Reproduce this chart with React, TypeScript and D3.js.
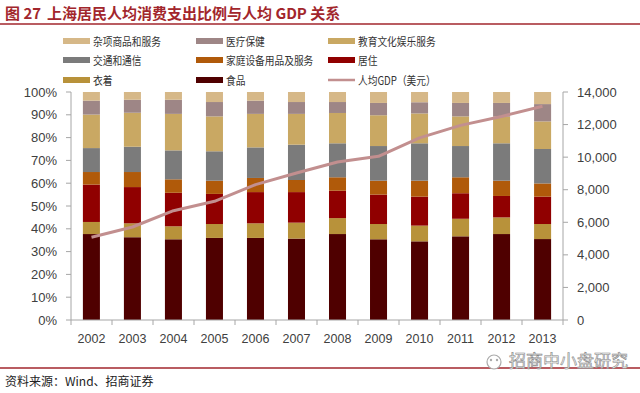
import React from "react";
import * as d3 from "d3";

const years = ["2002", "2003", "2004", "2005", "2006", "2007", "2008", "2009", "2010", "2011", "2012", "2013"];

// 消费支出构成 (%)
const food = [37.7, 36.3, 35.4, 36.0, 36.0, 35.7, 37.7, 35.4, 34.5, 36.7, 37.7, 35.5];
const clothing = [5.3, 6.1, 5.7, 6.1, 6.4, 7.0, 7.0, 6.7, 6.9, 7.7, 7.3, 6.6];
const housing = [16.4, 15.9, 14.7, 13.2, 13.7, 13.4, 12.0, 12.9, 12.7, 11.2, 9.4, 12.0];
const household = [5.5, 6.6, 5.9, 5.8, 6.2, 5.3, 5.9, 6.1, 7.0, 7.0, 6.7, 5.8];
const transport = [10.5, 11.1, 12.7, 12.9, 13.4, 15.5, 14.9, 15.2, 16.4, 13.7, 16.4, 15.1];
const education = [14.7, 14.9, 16.0, 15.3, 14.7, 13.5, 13.3, 13.5, 13.1, 13.0, 11.7, 12.1];
const medical = [6.1, 5.7, 6.2, 6.3, 5.8, 5.2, 4.8, 5.4, 4.9, 5.9, 6.0, 7.6];
const misc = [3.8, 3.4, 3.4, 4.4, 3.8, 4.4, 4.4, 4.8, 4.5, 4.8, 4.8, 5.3];

// 人均GDP（美元）
const gdp = [5080, 5710, 6710, 7290, 8310, 9030, 9700, 10050, 11180, 11950, 12500, 13120];

const leftTicks = [0, 10, 20, 30, 40, 50, 60, 70, 80, 90, 100];
const rightTicks = [0, 2000, 4000, 6000, 8000, 10000, 12000, 14000];

const series = [
  { key: "food", name: "食品", values: food, color: "#4f0000" },
  { key: "clothing", name: "衣着", values: clothing, color: "#b8923a" },
  { key: "housing", name: "居住", values: housing, color: "#900000" },
  { key: "household", name: "家庭设备用品及服务", values: household, color: "#b05a0a" },
  { key: "transport", name: "交通和通信", values: transport, color: "#7b7b7b" },
  { key: "education", name: "教育文化娱乐服务", values: education, color: "#c9a863" },
  { key: "medical", name: "医疗保健", values: medical, color: "#9e8686" },
  { key: "misc", name: "杂项商品和服务", values: misc, color: "#d6b888" },
];

const legendRows = [
  ["misc", "medical", "education"],
  ["transport", "household", "housing"],
  ["clothing", "food", "gdp"],
];

const lineColor = "#c28f8f";
const titleColor = "#a2262c";
const axisColor = "#a6a6a6";
const textColor = "#404040";
const font = "'Liberation Sans', Arial, sans-serif";
const cjk = "'Noto Sans CJK SC', sans-serif";

const W = 640;
const H = 393;
const plot = { left: 71, right: 563, top: 92, bottom: 320 };

// legend text is narrower than Noto at this size, so squeeze a little
const LegendText = ({ x, y, label }: { x: number; y: number; label: string }) => {
  const cjkCount = label.replace(/[A-Za-z]/g, "").length;
  const latin = label.length - cjkCount;
  const len = cjkCount * 9.7 + latin * 6.5;
  return (
    <text x={x} y={y} fontFamily={cjk} fontSize={11.5} fill="#333" textLength={len} lengthAdjust="spacingAndGlyphs">
      {label}
    </text>
  );
};

export default function App() {
  const x = d3.scaleBand().domain(years).range([plot.left, plot.right]).paddingInner(0.585).paddingOuter(0.29);
  const band = d3.scaleBand().domain(years).range([plot.left, plot.right]);
  const yl = d3.scaleLinear().domain([0, 100]).range([plot.bottom, plot.top]);
  const yr = d3.scaleLinear().domain([0, 14000]).range([plot.bottom, plot.top]);

  const table = years.map((y, i) => {
    const row: Record<string, any> = { year: y };
    series.forEach((s) => (row[s.key] = s.values[i]));
    return row;
  });
  const stacked = d3.stack().keys(series.map((s) => s.key))(table as any);

  const line = d3
    .line<number>()
    .x((_, i) => (band(years[i]) as number) + band.bandwidth() / 2)
    .y((d) => yr(d));

  const byKey = Object.fromEntries(series.map((s) => [s.key, s]));
  const legendCols = [63, 196, 328];
  const legendYs = [41, 60, 80];

  return (
    <svg width={W} height={H} style={{ position: "absolute", left: 0, top: 0, background: "#fff" }}>
      <text y={19} fill={titleColor} fontFamily={cjk} fontWeight="bold" fontSize={15}>
        <tspan x={5}>图 27</tspan>
        <tspan x={47}>上海居民人均消费支出比例与人均 GDP 关系</tspan>
      </text>
      <line x1={0} x2={W} y1={24} y2={24} stroke={titleColor} strokeWidth={1.5} />

      {legendRows.map((row, r) =>
        row.map((k, c) => {
          const lx = legendCols[c];
          const ly = legendYs[r];
          if (k === "gdp") {
            return (
              <g key={k}>
                <line x1={lx} x2={lx + 27} y1={ly} y2={ly} stroke={lineColor} strokeWidth={2.5} />
                <LegendText x={lx + 30} y={ly + 4.5} label="人均GDP（美元）" />
              </g>
            );
          }
          const s = byKey[k];
          return (
            <g key={k}>
              <rect x={lx} y={ly - 3} width={27} height={6} fill={s.color} />
              <LegendText x={lx + 30} y={ly + 4.5} label={s.name} />
            </g>
          );
        })
      )}

      {stacked.map((layer, li) => (
        <g key={layer.key} fill={series[li].color}>
          {layer.map((d, i) => (
            <rect
              key={years[i]}
              x={x(years[i])}
              width={x.bandwidth()}
              y={yl(Math.min(d[1], 100))}
              height={yl(d[0]) - yl(Math.min(d[1], 100))}
            />
          ))}
        </g>
      ))}

      <path d={line(gdp) || ""} fill="none" stroke={lineColor} strokeWidth={3} strokeLinejoin="round" />

      {/* left axis */}
      <line x1={plot.left} x2={plot.left} y1={plot.top} y2={plot.bottom} stroke={axisColor} />
      {leftTicks.map((t) => (
        <g key={t}>
          <line x1={plot.left - 5} x2={plot.left} y1={yl(t)} y2={yl(t)} stroke={axisColor} />
          <text x={57} y={yl(t) + 4.5} textAnchor="end" fontFamily={font} fontSize={13} fill={textColor}>
            {t + "%"}
          </text>
        </g>
      ))}

      {/* right axis */}
      <line x1={plot.right} x2={plot.right} y1={plot.top} y2={plot.bottom} stroke={axisColor} />
      {rightTicks.map((t) => (
        <g key={t}>
          <line x1={plot.right} x2={plot.right + 5} y1={yr(t)} y2={yr(t)} stroke={axisColor} />
          <text x={577} y={yr(t) + 4.5} textAnchor="start" fontFamily={font} fontSize={13} fill={textColor}>
            {d3.format(",")(t)}
          </text>
        </g>
      ))}

      {/* bottom axis */}
      <line x1={plot.left} x2={plot.right} y1={plot.bottom} y2={plot.bottom} stroke={axisColor} />
      {years.map((y) => (
        <g key={y}>
          <line x1={band(y) as number} x2={band(y) as number} y1={plot.bottom} y2={plot.bottom + 5} stroke={axisColor} />
          <text
            x={(band(y) as number) + band.bandwidth() / 2}
            y={plot.bottom + 23}
            textAnchor="middle"
            fontFamily={font}
            fontSize={12.5}
            fill={textColor}
          >
            {y}
          </text>
        </g>
      ))}
      <line x1={plot.right} x2={plot.right} y1={plot.bottom} y2={plot.bottom + 5} stroke={axisColor} />

      <line x1={0} x2={W} y1={368} y2={368} stroke={titleColor} strokeWidth={1.5} />

      {/* watermark */}
      <g>
        <circle cx={494} cy={362} r={7} fill="#fff" stroke="#aaa" strokeWidth={1.2} />
        <circle cx={491} cy={360} r={1.2} fill="#aaa" />
        <circle cx={497} cy={360} r={1.2} fill="#aaa" />
        <text x={509} y={367} fontFamily={cjk} fontSize={17} fill="#f2f2f2" stroke="#888" strokeWidth={0.6}>
          招商中小盘研究
        </text>
      </g>

      <text x={5} y={386} fontFamily={cjk} fontSize={12} fill="#222">
        资料来源：Wind、招商证券
      </text>
    </svg>
  );
}
